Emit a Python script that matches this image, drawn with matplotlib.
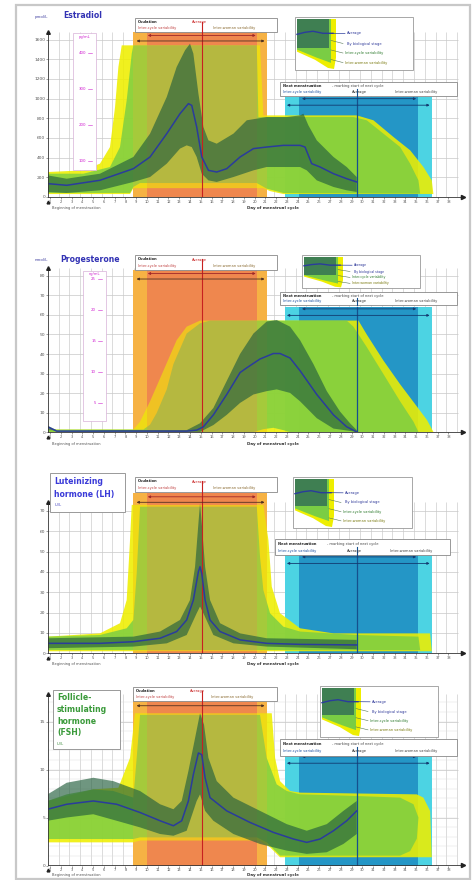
import matplotlib
matplotlib.use("Agg")
import matplotlib.pyplot as plt
from matplotlib.patches import Rectangle, Polygon

W, H = 475, 880          # output size in pixels
DAY_PX = 10.77           # horizontal pixels per day
X0_PX = 50               # pixel column of day 1

# ------------------------------------------------------------------ data
days = list(range(1, 39))

# shared windows (day of cycle)
ovulation_outer = (8.74, 21.12)
ovulation_inner = (9.98, 20.20)
ovulation_avg = 15.15
menses_outer = (22.80, 36.45)
menses_inner = (24.10, 35.20)
menses_avg = 29.50

# Estradiol, pmol/L  (day, value)
e2_ticks = [0, 200, 400, 600, 800, 1000, 1200, 1400, 1600]
e2_pg_ticks = [100, 200, 300, 400]          # pg/mL, 1 pg/mL = 3.671 pmol/L
e2_avg = [(0.78, 136), (2.55, 119), (5.64, 170), (8.74, 288), (10.29, 407), (11.84, 644),
          (13.07, 847), (13.85, 949), (14.16, 932), (14.62, 712), (15.09, 407), (15.71, 271),
          (16.48, 254), (17.41, 288), (18.65, 407), (19.89, 492), (21.12, 508), (22.67, 525),
          (24.22, 525), (24.68, 508), (25.30, 339), (26.08, 305), (27.32, 237), (28.55, 186),
          (29.48, 153)]
e2_stage_hi = [(0.78, 220), (2.55, 186), (5.64, 237), (8.74, 407), (10.29, 644), (11.84, 1017),
               (12.76, 1322), (13.54, 1492), (14.00, 1559), (14.31, 1458), (14.78, 1051),
               (15.24, 712), (15.71, 576), (16.48, 542), (18.03, 644), (19.27, 780), (21.12, 813),
               (22.98, 813), (24.22, 830), (24.53, 847), (24.99, 729), (25.77, 576), (27.32, 407),
               (28.55, 305), (29.48, 203)]
e2_stage_lo = [(0.78, 51), (2.55, 41), (5.64, 68), (8.74, 153), (10.29, 203), (11.84, 339),
               (13.07, 492), (13.69, 525), (14.16, 508), (14.62, 407), (15.09, 237), (15.71, 169),
               (16.48, 153), (18.03, 203), (19.89, 271), (21.12, 305), (24.22, 305), (24.84, 271),
               (25.77, 169), (27.32, 102), (28.55, 68), (29.48, 51)]
e2_cycle_hi = [(0.78, 237), (4.10, 237), (6.57, 305), (7.50, 508), (8.12, 983), (8.59, 1458),
               (8.74, 1542), (20.20, 1542), (20.35, 813), (29.17, 813), (30.41, 780), (31.96, 644),
               (33.51, 508), (34.44, 339), (35.21, 169), (35.37, 34)]
e2_cycle_lo = [(0.78, 41), (8.43, 41), (8.74, 102), (9.36, 142), (20.20, 142), (21.12, 85),
               (22.67, 41), (35.37, 34)]
e2_woman_hi = [(0.78, 254), (4.10, 271), (5.64, 339), (6.57, 508), (7.04, 915), (7.35, 1322),
               (7.66, 1542), (20.50, 1542), (20.81, 830), (29.48, 830), (31.03, 780), (32.89, 610),
               (34.44, 475), (35.67, 305), (36.45, 169), (36.60, 30)]
e2_woman_lo = [(0.78, 30), (8.43, 30), (8.74, 90), (20.81, 90), (21.43, 60), (22.67, 30), (36.60, 30)]

# Progesterone, nmol/L
p4_ticks = [0, 10, 20, 30, 40, 50, 60, 70, 80]
p4_ng_ticks = [5, 10, 15, 20, 25]            # ng/mL, 1 ng/mL = 3.18 nmol/L
p4_avg = [(0.78, 2.9), (1.62, 0.7), (13.69, 0.7), (14.62, 1.2), (15.24, 2.9), (16.17, 9.0),
          (17.41, 19.4), (18.65, 30.6), (19.27, 33.0), (20.50, 37.5), (21.74, 40.3), (22.36, 40.3),
          (23.29, 38.0), (24.22, 31.5), (25.77, 19.4), (27.32, 9.0), (28.55, 2.9), (29.48, 0.3)]
p4_stage_hi = [(0.78, 3.5), (1.62, 1.2), (13.69, 1.2), (14.93, 4.7), (16.17, 12.5), (17.41, 26.3),
               (18.65, 40.1), (19.89, 50.5), (21.12, 56.6), (22.05, 57.4), (23.29, 54.0),
               (24.22, 47.1), (25.46, 34.9), (26.70, 21.1), (27.93, 10.7), (28.86, 4.7), (29.48, 1.2)]
p4_stage_lo = [(0.78, 1.2), (14.93, 0.3), (16.17, 3.8), (17.41, 9.0), (18.65, 15.1), (19.89, 19.4),
               (21.12, 21.1), (22.05, 22.0), (23.29, 20.2), (24.22, 15.9), (25.77, 7.3),
               (27.32, 2.0), (29.48, 0.3)]
p4_cycle_hi = [(0.78, 1.5), (9.67, 1.5), (10.29, 4.0), (10.91, 10.0), (11.84, 22.0), (12.46, 34.9),
               (13.69, 50.5), (14.93, 55.7), (15.86, 57.1), (28.55, 57.1), (29.17, 54.0),
               (30.41, 43.6), (31.96, 29.8), (33.51, 15.9), (34.75, 5.5), (35.21, 0.3)]
p4_cycle_lo = [(0.78, 0.2), (19.89, 0.2), (20.81, 1.7), (21.74, 2.4), (22.67, 1.2), (23.29, 0.2),
               (35.21, 0.2)]
p4_woman_hi = [(0.78, 1.5), (8.74, 1.5), (9.36, 5.5), (10.29, 15.9), (11.53, 31.5), (12.76, 47.1),
               (13.69, 54.0), (14.93, 57.1), (29.64, 57.1), (30.41, 50.0), (31.96, 36.7),
               (33.51, 24.6), (35.06, 13.3), (36.00, 6.4), (36.60, 0.3)]
p4_woman_lo = [(0.78, 0.0), (36.60, 0.0)]

# Luteinizing hormone, IU/L
lh_ticks = [0, 10, 20, 30, 40, 50, 60, 70]
lh_avg = [(0.78, 4.9), (5.64, 4.9), (8.74, 5.7), (11.22, 7.4), (12.76, 10.7), (13.69, 16.4),
          (14.31, 26.2), (14.78, 40.2), (14.93, 42.6), (15.09, 39.3), (15.40, 26.2), (15.86, 16.4),
          (16.79, 10.7), (18.65, 6.6), (21.12, 4.9), (24.22, 4.4), (29.48, 4.1)]
lh_stage_hi = [(0.78, 7.4), (8.74, 8.2), (11.22, 10.7), (13.07, 16.4), (14.00, 26.2), (14.47, 42.6),
               (14.78, 63.9), (14.93, 73.8), (15.09, 63.9), (15.40, 42.6), (15.86, 26.2),
               (16.79, 14.8), (18.65, 9.8), (21.12, 7.4), (29.48, 6.6)]
lh_stage_lo = [(0.78, 2.5), (8.74, 3.3), (11.84, 4.9), (13.69, 9.0), (14.62, 19.7), (14.93, 23.0),
               (15.24, 19.7), (16.17, 9.0), (18.03, 4.9), (21.12, 3.3), (29.48, 2.0)]
lh_cycle_hi = [(0.78, 8.2), (5.64, 9.0), (8.12, 12.3), (8.74, 16.4), (9.05, 39.3), (9.36, 72.1),
               (20.20, 72.1), (20.50, 47.5), (20.81, 31.1), (21.43, 19.7), (22.67, 13.1),
               (24.22, 10.7), (29.48, 9.0), (35.21, 8.2), (35.37, 1.6)]
lh_cycle_lo = [(0.78, 1.6), (35.37, 1.6)]
lh_woman_hi = [(0.78, 8.2), (5.64, 9.8), (7.50, 14.8), (8.12, 26.2), (8.43, 55.7), (8.59, 73.0),
               (20.81, 73.0), (21.28, 55.7), (21.59, 32.8), (22.36, 19.7), (24.22, 12.3),
               (27.32, 9.8), (36.29, 9.8), (36.45, 1.0)]
lh_woman_lo = [(0.78, 1.0), (36.45, 1.0)]

# Follicle-stimulating hormone, IU/L
fsh_ticks = [0, 5, 10, 15]
fsh_avg = [(0.78, 5.86), (2.55, 6.38), (5.02, 6.72), (7.19, 6.38), (9.36, 5.52), (11.22, 4.66),
           (12.46, 4.14), (13.23, 4.66), (13.85, 6.72), (14.31, 9.48), (14.78, 11.72),
           (15.09, 11.55), (15.40, 9.14), (15.86, 7.07), (17.41, 5.69), (19.58, 4.48),
           (21.74, 3.45), (23.60, 2.76), (24.84, 2.41), (26.08, 2.76), (27.32, 3.62),
           (28.55, 4.66), (29.48, 5.69)]
fsh_stage_hi = [(0.78, 7.41), (2.55, 8.62), (5.02, 9.14), (6.88, 8.79), (9.36, 7.76), (11.22, 6.38),
                (12.46, 5.86), (13.23, 6.72), (13.85, 9.83), (14.47, 13.28), (14.93, 15.86),
                (15.30, 14.66), (15.71, 11.21), (16.48, 8.79), (18.03, 7.07), (20.50, 5.69),
                (22.98, 4.31), (24.84, 3.62), (26.70, 4.31), (28.24, 5.69), (29.48, 6.72)]
fsh_stage_lo = [(0.78, 4.66), (2.55, 5.00), (5.02, 5.34), (7.19, 4.66), (9.36, 3.97), (11.22, 3.28),
                (12.46, 3.10), (13.69, 3.62), (14.62, 6.72), (14.93, 7.41), (15.40, 5.69),
                (16.17, 4.66), (18.03, 3.28), (20.50, 2.24), (22.98, 1.55), (24.84, 1.21),
                (26.70, 1.38), (28.24, 2.24), (29.48, 3.28)]
fsh_cycle_hi = [(0.78, 6.72), (2.55, 7.41), (5.02, 7.93), (6.88, 7.76), (8.74, 7.07), (9.05, 11.21),
                (9.36, 15.69), (20.50, 15.69), (21.12, 11.21), (22.05, 8.45), (22.98, 7.76),
                (24.22, 7.41), (29.48, 7.24), (33.51, 7.07), (34.75, 6.38), (35.21, 5.00)]
fsh_cycle_lo = [(0.78, 2.76), (8.74, 2.76), (9.36, 2.93), (20.20, 2.93), (21.12, 2.41),
                (22.36, 1.03), (33.51, 1.03), (34.44, 1.50), (35.06, 2.80), (35.21, 5.00)]
fsh_woman_hi = [(0.78, 6.72), (5.02, 7.93), (7.35, 8.10), (8.43, 11.21), (8.89, 15.86),
                (21.59, 15.86), (21.90, 11.21), (22.36, 8.79), (23.29, 7.76), (24.22, 7.59),
                (35.06, 7.41), (35.67, 7.07), (36.29, 5.69), (36.45, 0.86)]
fsh_woman_lo = [(0.78, 2.41), (8.74, 2.41), (9.36, 2.60), (20.50, 2.60), (21.43, 1.90),
                (22.36, 0.86), (36.45, 0.86)]

# ---------------------------------------------------------------- style
YELLOW = "#eeee00"
GREEN = "#7acd44"
DARK = "#25603e"
AVG = "#2a3c9c"
ORANGE_OUT = "#f6b244"
ORANGE_IN = "#ef7f52"
CYAN_OUT = "#4cd3e3"
BLUE_IN = "#2496c6"
RED = "#c82020"
NAVY = "#16508e"
GRID = "#c8c8c8"
TXT = "#555555"

panels = [
    dict(top=12, bottom=197, scale=0.09835, ticks=e2_ticks, arrow_y=32, orange_top=1678, cyan_top=1020,
         avg=e2_avg, stage=(e2_stage_hi, e2_stage_lo), cycle=(e2_cycle_hi, e2_cycle_lo),
         woman=(e2_woman_hi, e2_woman_lo), ov_box=(135, 18, 142, 14), leg=(295, 17, 118, 53),
         nm_box=(280, 82, 177, 14), minor=None, foot=11),
    dict(top=250, bottom=432.5, scale=1.96, ticks=p4_ticks, arrow_y=268, orange_top=82.9, cyan_top=64.1,
         avg=p4_avg, stage=(p4_stage_hi, p4_stage_lo), cycle=(p4_cycle_hi, p4_cycle_lo),
         woman=(p4_woman_hi, p4_woman_lo), ov_box=(135, 255, 142, 15), leg=(302, 255, 118, 33),
         nm_box=(280, 292, 177, 13), minor=None, foot=11),
    dict(top=470, bottom=653.3, scale=2.033, ticks=lh_ticks, arrow_y=502, orange_top=78.7, cyan_top=48.4,
         avg=lh_avg, stage=(lh_stage_hi, lh_stage_lo), cycle=(lh_cycle_hi, lh_cycle_lo),
         woman=(lh_woman_hi, lh_woman_lo), ov_box=(135, 477, 142, 15), leg=(293, 477, 119, 51),
         nm_box=(275, 539, 175, 16), minor=None, foot=11),
    dict(top=683, bottom=865.5, scale=9.6, ticks=fsh_ticks, arrow_y=694, orange_top=17.58, cyan_top=11.54,
         avg=fsh_avg, stage=(fsh_stage_hi, fsh_stage_lo), cycle=(fsh_cycle_hi, fsh_cycle_lo),
         woman=(fsh_woman_hi, fsh_woman_lo), ov_box=(133, 687, 144, 14), leg=(320, 686, 118, 51),
         nm_box=(280, 739, 177, 17), minor=1, foot=9.5),
]


def xp(day):
    return X0_PX + (day - 1) * DAY_PX


def vy(p, v):
    return p["bottom"] - v * p["scale"]


def band(ax, hi, lo, color, alpha, z):
    pts = list(hi) + list(reversed(lo))
    ax.add_patch(Polygon(pts, closed=True, fc=color, ec="none", alpha=alpha, zorder=z))


fig = plt.figure(figsize=(W / 100, H / 100), dpi=100)
fig.patch.set_facecolor("white")

x_lo, x_hi = 0.8, 39.4
for p in panels:
    ymax = (p["bottom"] - p["top"]) / p["scale"]
    ax = fig.add_axes([xp(x_lo) / W, 1 - p["bottom"] / H, (xp(x_hi) - xp(x_lo)) / W,
                       (p["bottom"] - p["top"]) / H])
    ax.set_xlim(x_lo, x_hi)
    ax.set_ylim(0, ymax)
    ax.patch.set_alpha(0)
    for s in ax.spines.values():
        s.set_visible(False)
    ax.set_xticks(days)
    ax.set_xticklabels([str(d) for d in days], fontsize=2.6, color=TXT)
    ax.set_yticks(p["ticks"])
    ax.set_yticklabels([str(t) for t in p["ticks"]], fontsize=3.2, color=TXT)
    ax.tick_params(length=1.3, width=0.4, pad=0.6, colors=TXT)

    gtop = (p["bottom"] - p["arrow_y"]) / p["scale"]
    ax.vlines([d + 0.8 for d in days], 0, gtop, color=GRID, lw=0.45, zorder=0)
    if p["minor"]:
        ax.hlines([v for v in range(1, 18)], x_lo, 38.9, color="#e0e0e0", lw=0.35, zorder=0)
    ax.hlines(p["ticks"][1:], x_lo, 38.9, color=GRID, lw=0.5, zorder=0)

    # ovulation and next menstruation windows
    for (a, b), col, z in ((ovulation_outer, ORANGE_OUT, 1), (ovulation_inner, ORANGE_IN, 1.1)):
        ax.add_patch(Rectangle((a, 0), b - a, p["orange_top"], fc=col, ec="none", zorder=z))
        # translucent wash over the curves gives the olive tint inside the window
        ax.add_patch(Rectangle((a, 0), b - a, p["orange_top"], fc=col, ec="none", alpha=0.22,
                               zorder=z + 2.5))
    ax.add_patch(Rectangle((menses_outer[0], 0), menses_outer[1] - menses_outer[0],
                           p["cyan_top"], fc=CYAN_OUT, ec="none", zorder=1))
    ax.add_patch(Rectangle((menses_inner[0], 0), menses_inner[1] - menses_inner[0],
                           p["cyan_top"], fc=BLUE_IN, ec="none", zorder=1.1))

    band(ax, *p["woman"], YELLOW, 0.88, 2)
    band(ax, *p["cycle"], GREEN, 0.82, 3)
    band(ax, *p["stage"], DARK, 0.66, 4)

    ax.plot([ovulation_avg, ovulation_avg], [0, p["orange_top"]], color=RED, lw=0.8, zorder=5)
    ax.plot([menses_avg, menses_avg], [0, p["cyan_top"]], color=NAVY, lw=0.9, zorder=5)
    ax.plot([d for d, v in p["avg"]], [v for d, v in p["avg"]], color=AVG, lw=1.1, zorder=6,
            solid_joinstyle="round")

# ---------------------------------------------------------------- overlay in pixel coords
deco = fig.add_axes([0, 0, 1, 1])
deco.set_xlim(0, W)
deco.set_ylim(H, 0)
deco.axis("off")

deco.add_patch(Rectangle((16, 5), 454, 874, fc="none", ec="#c8c8c8", lw=1.6, zorder=1))


def txt(x, y, s, fs=2.6, **kw):
    deco.text(x, y, s, fontsize=fs, va="center", zorder=20, **kw)


def arrow(a, b, y, color):
    deco.annotate("", xy=(xp(b), y), xytext=(xp(a), y),
                  arrowprops=dict(arrowstyle="<|-|>", color=color, lw=0.6, mutation_scale=3.5,
                                  shrinkA=0, shrinkB=0), zorder=8)


def legend_box(x0, y0, w, h):
    s = h / 52.0
    fs = 2.6 if h > 40 else 2.3
    deco.add_patch(Rectangle((x0, y0), w, h, fc="white", ec="#999999", lw=0.6, zorder=10))
    deco.add_patch(Polygon([(x0 + 2, y0 + 2), (x0 + 41, y0 + 2), (x0 + 41, y0 + 40 * s),
                            (x0 + 39, y0 + 51 * s), (x0 + 33, y0 + 50 * s), (x0 + 20, y0 + 42 * s),
                            (x0 + 2, y0 + 34 * s)], fc=YELLOW, ec="none", zorder=11))
    deco.add_patch(Polygon([(x0 + 2, y0 + 2), (x0 + 36, y0 + 2), (x0 + 36, y0 + 45 * s),
                            (x0 + 22, y0 + 40 * s), (x0 + 2, y0 + 32 * s)], fc=GREEN, ec="none",
                           zorder=12))
    deco.add_patch(Rectangle((x0 + 2, y0 + 2), 32, 28 * s, fc="#3f7f52", ec="none", zorder=13))
    deco.plot([x0 + 2, x0 + 10, x0 + 18, x0 + 28, x0 + 38],
              [y0 + 17 * s, y0 + 15 * s, y0 + 14 * s, y0 + 16 * s, y0 + 16 * s],
              color=AVG, lw=1.0, zorder=14)
    rows = [y0 + h * f for f in (0.31, 0.5, 0.68, 0.86)]
    deco.plot([x0 + 38, x0 + 50], [y0 + 16 * s, rows[0]], color=AVG, lw=0.5, zorder=14)
    for r in rows[1:]:
        deco.plot([x0 + 36, x0 + 48], [r - 3 * s, r], color="#557755", lw=0.4, zorder=14)
    txt(x0 + 52, rows[0], "Average", fs=fs, color="#303a9a")
    txt(x0 + 52, rows[1], "By biological stage", fs=fs, color="#303a9a")
    txt(x0 + 50, rows[2], "Inter-cycle variability", fs=fs, color="#2d7a2d")
    txt(x0 + 50, rows[3], "Inter-woman variability", fs=fs, color="#7a7a10")


def ovulation_box(x0, y0, w, h):
    deco.add_patch(Rectangle((x0, y0), w, h, fc="white", ec="#888888", lw=0.6, zorder=10))
    txt(x0 + 3, y0 + h * 0.3, "Ovulation", fontweight="bold", color="#222222")
    txt(x0 + 57, y0 + h * 0.3, "Average", color=RED)
    txt(x0 + 3, y0 + h * 0.72, "Inter-cycle variability", color="#c04040")
    txt(x0 + 78, y0 + h * 0.72, "Inter-woman variability", color="#8a6a30")
    deco.plot([xp(ovulation_avg)] * 2, [y0 + 4, y0 + h], color=RED, lw=0.8, zorder=11)


def menses_box(x0, y0, w, h):
    deco.add_patch(Rectangle((x0, y0), w, h, fc="white", ec="#888888", lw=0.6, zorder=10))
    txt(x0 + 3, y0 + h * 0.3, "Next menstruation", fontweight="bold", color="#222222")
    txt(x0 + 52, y0 + h * 0.3, "- marking start of next cycle", color="#444444")
    txt(x0 + 3, y0 + h * 0.72, "Inter-cycle variability", color="#1a4fa0")
    txt(x0 + 72, y0 + h * 0.72, "Average", color="#333333")
    txt(x0 + 115, y0 + h * 0.72, "Inter-woman variability", color="#444444")
    deco.plot([xp(menses_avg)] * 2, [y0 + h * 0.5, y0 + h], color=NAVY, lw=0.8, zorder=11)


for p in panels:
    b = p["bottom"]
    # axes with arrow heads
    deco.plot([48, 48], [b, p["arrow_y"]], color="#333333", lw=0.6, zorder=6)
    deco.plot([48], [p["arrow_y"]], marker="^", ms=2.6, color="#222222", zorder=6)
    deco.plot([48, 462], [b, b], color="#333333", lw=0.6, zorder=6)
    deco.plot([463], [b], marker=">", ms=3, color="#222222", zorder=6)
    deco.plot([48], [b + 5], marker="^", ms=2, color="#222222", zorder=6)
    txt(52, b + p["foot"], "Beginning of menstruation", fs=2.6, color=TXT)
    txt(273, b + p["foot"], "Day of menstrual cycle", fs=2.9, color="#333333", ha="center",
        fontweight="bold")

    oy = vy(p, p["orange_top"])
    arrow(ovulation_inner[0] + 0.1, ovulation_inner[1] - 0.1, oy + 3.5, "#a02828")
    arrow(ovulation_outer[0] + 0.3, ovulation_outer[1] - 0.2, oy + 9, "#503020")
    cy = vy(p, p["cyan_top"])
    arrow(menses_inner[0] + 0.3, menses_inner[1] - 0.2, cy + 2, "#123a70")
    arrow(menses_outer[0] + 0.2, menses_outer[1] - 0.2, cy + 8.5, "#123a70")

    ovulation_box(*p["ov_box"])
    menses_box(*p["nm_box"])
    legend_box(*p["leg"])

# titles
e2p, p4p, lhp, fshp = panels
txt(35, 17, "pmol/L", fs=2.8, color="#4040a0")
txt(63, 16, "Estradiol", fs=5.6, fontweight="bold", color="#3232b4")
txt(35, 260, "nmol/L", fs=2.8, color="#4040a0")
txt(60, 260, "Progesterone", fs=5.6, fontweight="bold", color="#3232b4")

deco.add_patch(Rectangle((50, 473), 75, 39, fc="white", ec="#999999", lw=0.7, zorder=10))
txt(54, 482, "Luteinizing", fs=5.6, fontweight="bold", color="#3a3ad8")
txt(54, 494, "hormone (LH)", fs=5.6, fontweight="bold", color="#3a3ad8")
txt(55, 505, "IU/L", fs=2.6, color="#4040c0")

deco.add_patch(Rectangle((53, 690), 67, 59, fc="white", ec="#999999", lw=0.7, zorder=10))
for i, line in enumerate(["Follicle-", "stimulating", "hormone", "(FSH)"]):
    txt(57, 698 + i * 11.5, line, fs=5.6, fontweight="bold", color="#3a9a3a")
txt(57, 744, "IU/L", fs=2.6, color="#3a8a3a")

# secondary unit scales
deco.add_patch(Rectangle((73, 33), 23, 137, fc="white", ec="#d8b0d8", lw=0.5, zorder=9))
txt(84.5, 37, "pg/mL", fs=2.6, color="#d020d0", ha="center")
for t in e2_pg_ticks:
    y = vy(e2p, t * 3.671)
    txt(86, y, str(t), fs=2.8, color="#d020d0", ha="right")
    deco.plot([87.5, 92], [y, y], color="#d020d0", lw=0.4, zorder=20)

deco.add_patch(Rectangle((83, 271), 23, 150, fc="white", ec="#d8b0d8", lw=0.5, zorder=9))
txt(94.5, 274, "ng/mL", fs=2.6, color="#d020d0", ha="center")
for t in p4_ng_ticks:
    y = vy(p4p, t * 3.18)
    txt(96, y + 2, str(t), fs=2.8, color="#d020d0", ha="right")
    deco.plot([97.5, 102], [y + 2, y + 2], color="#d020d0", lw=0.4, zorder=20)

fig.savefig("out.png", dpi=100)
